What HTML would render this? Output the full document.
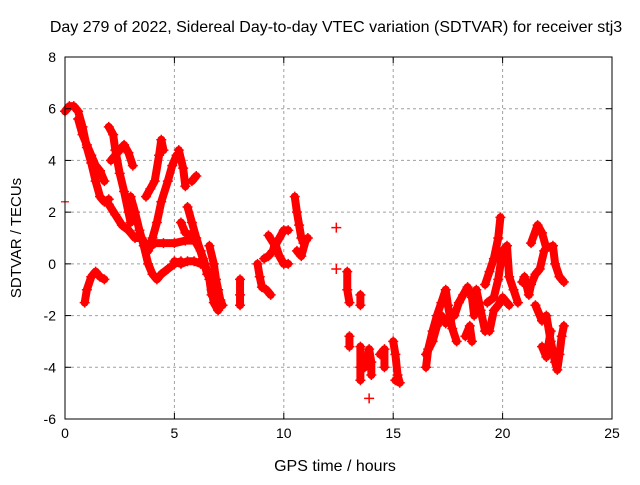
<!DOCTYPE html>
<html><head><meta charset="utf-8"><style>
body{margin:0;background:#fff;}
svg text{font-family:"Liberation Sans",sans-serif;font-size:14px;fill:#000;}
</style></head><body>
<svg id="chart" width="640" height="480" xmlns="http://www.w3.org/2000/svg">
<text x="336" y="32" text-anchor="middle" style="font-size:16px">Day 279 of 2022, Sidereal Day-to-day VTEC variation (SDTVAR) for receiver stj3</text>
<text x="335" y="471" text-anchor="middle" style="font-size:16px">GPS time / hours</text>
<text x="21" y="238" text-anchor="middle" transform="rotate(-90 21 238)" style="font-size:15px">SDTVAR / TECUs</text>
<g id="grid"></g><g id="marks"></g><g id="axes"></g>
</svg>
<script>
const xTicks=[0,5,10,15,20,25];
const yTicks=[-6,-4,-2,0,2,4,6,8];
const trackA=[[0,5.9],[0.2,6.1],[0.4,6.1],[0.6,5.9],[0.8,5.3],[1.0,4.5],[1.2,3.9],[1.4,3.2],[1.6,2.6],[1.8,2.4],[2.0,2.5]];
const trackB=[[0.6,5.6],[0.8,5.0],[1.0,4.6],[1.2,4.2],[1.4,3.8],[1.6,3.6],[1.8,3.2]];
const trackC=[[2.0,2.3],[2.3,1.9],[2.6,1.5],[2.9,1.3],[3.2,1.0],[3.5,1.0],[3.8,0.6],[4.1,0.8],[4.5,0.8],[5.0,0.8],[5.5,0.9],[5.9,0.9]];
const trackD=[[2.0,5.3],[2.2,5.0],[2.3,4.4],[2.5,3.5],[2.7,2.8],[2.9,2.0],[3.0,1.6]];
const trackE=[[2.1,4.0],[2.4,4.3],[2.7,4.6],[2.9,4.3],[3.1,3.8]];
const trackF=[[0.9,-1.5],[1.0,-1.0],[1.2,-0.5],[1.4,-0.3],[1.6,-0.5],[1.8,-0.6]];
const trackG=[[3.0,2.6],[3.2,2.0],[3.4,1.3],[3.6,0.7],[3.8,0.0],[4.0,-0.4],[4.2,-0.6],[4.4,-0.4],[4.7,-0.2],[5.0,0.0],[5.3,0.1]];
const trackH=[[3.7,2.6],[3.9,2.9],[4.1,3.2],[4.3,4.2],[4.4,4.8],[4.5,4.4]];
const trackI=[[3.8,0.5],[4.0,1.0],[4.2,1.6],[4.4,2.4],[4.7,3.2],[4.9,3.8],[5.1,4.2]];
const trackJ=[[5.2,4.4],[5.4,3.7],[5.5,3.0]];
const trackJ2=[[5.8,3.2],[6.0,3.4]];
const trackK=[[5.0,0.1],[5.3,0.0],[5.6,0.1],[5.9,0.1],[6.2,0.0]];
const trackL=[[5.3,1.6],[5.5,1.2],[5.8,1.1],[6.0,0.8],[6.2,0.5],[6.4,0.0],[6.6,-0.6],[6.7,-1.2]];
const trackM=[[5.6,2.2],[5.8,1.6],[6.0,1.0],[6.3,0.2],[6.5,-0.4]];
const trackN=[[6.6,0.7],[6.8,0.0],[6.9,-0.6],[7.0,-1.0],[7.1,-1.4],[7.2,-1.6]];
const trackN2=[[6.7,-1.0],[6.8,-1.5],[7.0,-1.8]];
const trackO=[[8.0,-0.6],[8.0,-1.2],[8.0,-1.6]];
const trackP=[[8.8,0.0],[8.9,-0.5],[9.0,-0.9],[9.2,-1.0],[9.4,-1.2]];
const trackP2=[[9.1,0.2],[9.3,0.3],[9.5,0.5],[9.6,0.8],[9.8,0.3],[10.0,0.0],[10.2,0.0]];
const trackQ=[[9.3,1.1],[9.6,0.7],[10.0,1.3],[10.2,1.3]];
const trackR=[[10.5,2.6],[10.6,2.0],[10.7,1.5],[10.8,1.0],[10.9,0.8],[11.1,1.0]];
const trackR2=[[10.6,0.5],[10.8,0.3],[11.0,0.9]];
const trackS=[[12.4,1.4]];
const trackS2=[[12.4,-0.2]];
const trackT=[[12.9,-0.3],[12.9,-1.0],[13.0,-1.5]];
const trackT2=[[13.0,-2.8],[13.0,-3.2]];
const trackU=[[13.5,-1.2],[13.5,-1.6]];
const trackU2=[[13.5,-3.2],[13.5,-4.0],[13.5,-4.5]];
const trackV=[[13.7,-4.0],[13.9,-3.3],[14.0,-3.8],[14.0,-4.3]];
const trackV2=[[13.9,-5.2]];
const trackW=[[14.4,-3.5],[14.6,-3.3],[14.6,-4.0]];
const trackX=[[15.0,-3.0],[15.1,-3.5],[15.2,-4.3],[15.3,-4.6],[15.1,-4.5]];
const trackY=[[16.5,-4.0],[16.6,-3.3],[16.8,-2.6],[17.0,-2.0],[17.2,-1.5],[17.4,-1.0],[17.5,-1.6],[17.7,-2.5],[17.9,-3.0]];
const trackY2=[[16.5,-3.5],[16.8,-3.0],[17.0,-2.4],[17.2,-2.0],[17.4,-2.3]];
const trackZ=[[17.8,-2.0],[18.0,-1.5],[18.2,-1.2],[18.4,-0.9],[18.6,-1.3],[18.7,-2.0],[18.8,-1.0],[19.0,-1.8],[19.2,-2.6]];
const trackZ2=[[18.3,-2.8],[18.5,-2.4],[18.6,-3.0]];
const trackZa=[[19.2,-0.8],[19.4,-0.3],[19.6,0.2],[19.8,1.0],[19.9,1.8]];
const trackZb=[[19.3,-1.5],[19.6,-1.3],[19.8,-0.6],[20.0,0.5],[20.2,0.7],[20.3,-0.5],[20.5,-1.0],[20.7,-1.5]];
const trackZc=[[19.4,-2.6],[19.6,-1.8],[19.8,-1.6],[20.0,-1.3],[20.3,-1.6]];
const trackZd=[[20.9,-0.7],[21.0,-0.5],[21.2,-1.2],[21.3,-0.8],[21.5,-0.4],[21.7,-0.2],[21.9,0.5]];
const trackZe=[[21.3,0.8],[21.6,1.5],[21.8,1.2],[22.0,0.6],[22.3,0.7],[22.4,0.0],[22.6,-0.5],[22.8,-0.7]];
const trackZf=[[21.5,-1.6],[21.8,-2.2],[22.0,-2.0],[22.2,-3.0],[22.4,-3.8],[22.5,-4.1],[22.6,-3.5],[22.7,-2.8],[22.8,-2.4]];
const trackZg=[[21.8,-3.2],[22.0,-3.6],[22.2,-2.6]];
const tracks=[trackA,trackB,trackC,trackD,trackE,trackF,trackG,trackH,trackI,trackJ,trackJ2,trackK,trackL,trackM,trackN,trackN2,trackO,trackP,trackP2,trackQ,trackR,trackR2,trackS,trackS2,trackT,trackT2,trackU,trackU2,trackV,trackV2,trackW,trackX,trackY,trackY2,trackZ,trackZ2,trackZa,trackZb,trackZc,trackZd,trackZe,trackZf,trackZg];
const NS="http://www.w3.org/2000/svg";
const L=65,R=612,T=57,B=419;
const xs=t=>L+(t-0)/25*(R-L);
const ys=v=>B-(v+6)/14*(B-T);
function mk(tag,a,p){const e=document.createElementNS(NS,tag);for(const k in a)e.setAttribute(k,a[k]);p.appendChild(e);return e;}
const grid=document.getElementById('grid'),marks=document.getElementById('marks'),axes=document.getElementById('axes');
xTicks.forEach(t=>{const x=xs(t);
 if(t>0&&t<25){const g=mk('line',{x1:x,x2:x,y1:T,y2:B,stroke:'#a0a0a0','stroke-dasharray':'3,3'},grid);
 
 }
 mk('line',{x1:x,x2:x,y1:B,y2:B-6,stroke:'#000'},axes);mk('line',{x1:x,x2:x,y1:T,y2:T+6,stroke:'#000'},axes);
 const lb=mk('text',{x:x,y:B+19,'text-anchor':'middle'},axes);lb.textContent=t;
 
 });
yTicks.forEach(v=>{const y=ys(v);
 if(v>-6&&v<8){const g=mk('line',{x1:L,x2:R,y1:y,y2:y,stroke:'#a0a0a0','stroke-dasharray':'3,3'},grid);
 
 }
 mk('line',{x1:L,x2:L+6,y1:y,y2:y,stroke:'#000'},axes);mk('line',{x1:R,x2:R-6,y1:y,y2:y,stroke:'#000'},axes);
 const lb=mk('text',{x:L-9,y:y+5,'text-anchor':'end'},axes);lb.textContent=v;
 
 });
const frame=mk('rect',{x:L,y:T,width:R-L,height:B-T,fill:'none',stroke:'#000'},axes);


tracks.forEach(tr=>{
 if(tr.length>1){const pl=mk('polyline',{points:tr.map(p=>xs(p[0])+','+ys(p[1])).join(' '),fill:'none',stroke:'#f00','stroke-width':8,'stroke-linejoin':'round','stroke-linecap':'round'},marks);
 
 }
 tr.forEach(p=>{const x=xs(p[0]),y=ys(p[1]);
  const m=mk('path',{d:`M${x-5},${y}H${x+5}M${x},${y-5}V${y+5}`,stroke:'#f00','stroke-width':1.5},marks);
  
  });
});
const lone=mk('path',{d:`M${xs(0)-4},${ys(2.4)}H${xs(0)+4}`,stroke:'#f00','stroke-width':1.2},marks);


</script>
</body></html>
